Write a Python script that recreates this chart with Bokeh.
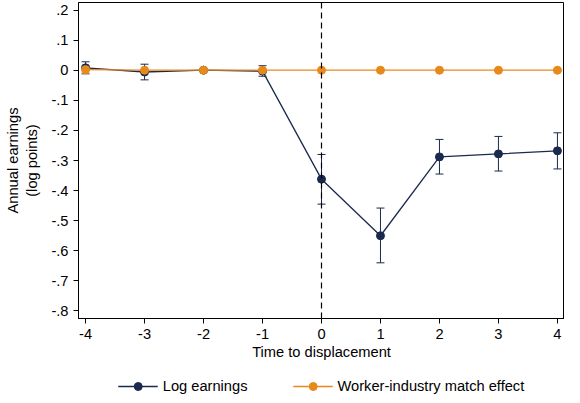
from bokeh.plotting import figure
from bokeh.layouts import column
from bokeh.models import Legend, LegendItem, Span, Whisker, ColumnDataSource, FixedTicker
from bokeh.embed import file_html
from bokeh.resources import INLINE

t = [-4, -3, -2, -1, 0, 1, 2, 3, 4]
log_earn = [0.008, -0.006, 0.0, -0.003, -0.362, -0.55, -0.288, -0.278, -0.268]
log_lo = [-0.012, -0.032, 0.0, -0.02, -0.445, -0.64, -0.345, -0.335, -0.328]
log_hi = [0.028, 0.02, 0.0, 0.015, -0.28, -0.458, -0.23, -0.22, -0.208]
match = [0.002, 0.0, 0.0, 0.0, 0.0, 0.0, 0.0, 0.0, 0.0]
match_lo = [-0.01, -0.002, 0.0, -0.002, 0.0, 0.0, 0.0, 0.0, 0.0]
match_hi = [0.014, 0.002, 0.0, 0.002, 0.0, 0.0, 0.0, 0.0, 0.0]
y_ticks = [0.2, 0.1, 0, -0.1, -0.2, -0.3, -0.4, -0.5, -0.6, -0.7, -0.8]

NAVY = "#1a2a4e"
ORANGE = "#e8891c"

p = figure(width=564, height=362, output_backend="svg", toolbar_location=None,
           x_range=(-4.12, 4.12), y_range=(-0.825, 0.225))
p.background_fill_color = "white"
p.outline_line_color = "black"
p.grid.visible = False
p.min_border_top = 2
p.min_border_right = 0
p.min_border_left = 78

src_l = ColumnDataSource(dict(x=t, y=log_earn, lo=log_lo, hi=log_hi))
src_m = ColumnDataSource(dict(x=t, y=match, lo=match_lo, hi=match_hi))

p.add_layout(Span(location=0, dimension="height", line_dash="6 4", line_color="black", line_width=1.2))

for src, col in ((src_l, NAVY), (src_m, ORANGE)):
    w = Whisker(source=src, base="x", lower="lo", upper="hi", line_color=col)
    w.upper_head.line_color = col
    w.lower_head.line_color = col
    w.upper_head.size = 8
    w.lower_head.size = 8
    p.add_layout(w)

p.line("x", "y", source=src_l, line_color=NAVY, line_width=1.3)
p.scatter("x", "y", source=src_l, size=8, color=NAVY)
p.line("x", "y", source=src_m, line_color=ORANGE, line_width=1.3)
p.scatter("x", "y", source=src_m, size=8, color=ORANGE)

p.xaxis.ticker = FixedTicker(ticks=t)
p.xaxis.major_label_overrides = {v: str(v) for v in t}
p.yaxis.ticker = FixedTicker(ticks=y_ticks)
p.yaxis.major_label_overrides = {v: ("0" if v == 0 else ("%.1f" % v).replace("0.", ".")) for v in y_ticks}
p.yaxis.major_label_orientation = "horizontal"
p.xaxis.axis_label = "Time to displacement"
p.yaxis.axis_label = "Annual earnings\n(log points)"
for ax in (p.xaxis[0], p.yaxis[0]):
    ax.axis_label_text_font = "Liberation Sans"
    ax.axis_label_text_font_style = "normal"
    ax.axis_label_text_font_size = "11pt"
    ax.axis_label_text_color = "black"
    ax.major_label_text_font = "Liberation Sans"
    ax.major_label_text_font_size = "11pt"
    ax.major_label_text_color = "black"
    ax.minor_tick_line_color = None
    ax.major_tick_out = 5
    ax.major_tick_in = 0
    ax.axis_line_color = "black"
p.xaxis.axis_label_standoff = 2
p.yaxis.axis_label_standoff = 8

# legend in its own small figure under the chart; dummy glyphs sit outside its ranges
lg = figure(width=564, height=48, output_backend="svg", toolbar_location=None,
            x_range=(0, 1), y_range=(0, 1), min_border=0)
lg.axis.visible = False
lg.grid.visible = False
lg.outline_line_color = None
e = ColumnDataSource(dict(x=[5, 6], y=[5, 6]))
a1 = lg.line("x", "y", source=e, line_color=NAVY, line_width=1.3)
b1 = lg.scatter("x", "y", source=e, size=8, color=NAVY)
a2 = lg.line("x", "y", source=e, line_color=ORANGE, line_width=1.3)
b2 = lg.scatter("x", "y", source=e, size=8, color=ORANGE)
legend = Legend(items=[LegendItem(label="Log earnings", renderers=[a1, b1]),
                       LegendItem(label="Worker-industry match effect", renderers=[a2, b2])],
                orientation="horizontal", location="center", label_text_font="Liberation Sans",
                label_text_font_size="11pt", label_text_color="black", spacing=45, glyph_width=40,
                border_line_color=None, background_fill_alpha=0)
lg.add_layout(legend)

open("out.html", "w").write(file_html(column(p, lg, spacing=0), INLINE))
